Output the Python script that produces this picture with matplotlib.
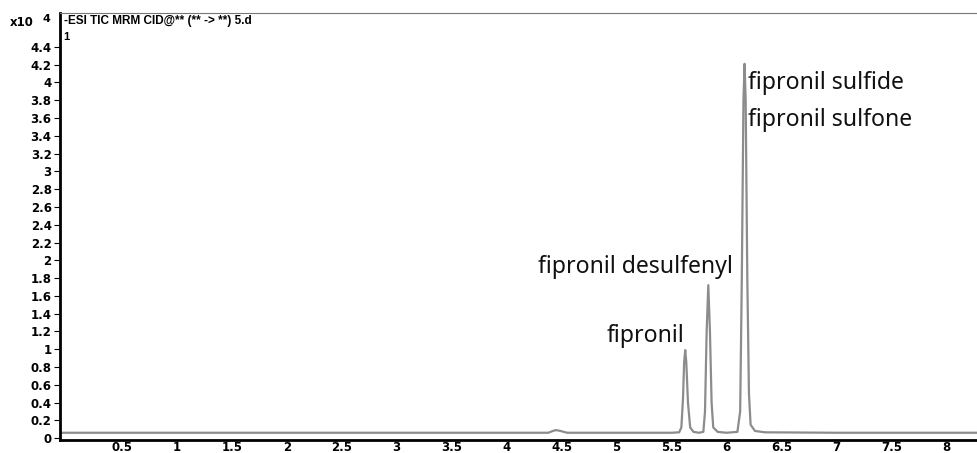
import matplotlib.pyplot as plt

# retention time (min) and abundance (x10^4)
rt = [-0.06, 1.0, 2.0, 3.0, 4.0, 4.38, 4.42, 4.45, 4.49, 4.55, 5.0, 5.5,
      5.57, 5.59, 5.605, 5.615, 5.625, 5.635, 5.65, 5.67, 5.70,
      5.75, 5.79, 5.805, 5.82, 5.835, 5.85, 5.865, 5.88, 5.92,
      6.0, 6.10, 6.125, 6.14, 6.155, 6.165, 6.175, 6.19, 6.205, 6.22, 6.26, 6.35,
      7.0, 8.28]
abundance = [0.06, 0.06, 0.06, 0.06, 0.06, 0.06, 0.08, 0.09, 0.08, 0.06, 0.06, 0.06,
             0.065, 0.12, 0.45, 0.85, 0.99, 0.85, 0.40, 0.12, 0.07,
             0.06, 0.07, 0.30, 1.20, 1.72, 1.20, 0.40, 0.12, 0.07,
             0.06, 0.07, 0.30, 1.80, 3.80, 4.21, 3.80, 1.80, 0.50, 0.15, 0.08, 0.065,
             0.06, 0.06]

labels = ['fipronil', 'fipronil desulfenyl', 'fipronil sulfide', 'fipronil sulfone']
label_x = [4.91, 4.285, 6.196, 6.196]
label_y = [1.08, 1.86, 3.93, 3.51]

fig = plt.figure(figsize=(9.77, 4.53), dpi=100)
ax = fig.add_axes([60 / 977, 0.029, 917 / 977, 0.942])

ax.plot(rt, abundance, color='#8c8c8c', lw=1.6)

for i in range(len(labels)):
    ax.text(label_x[i], label_y[i], labels[i], fontsize=16.6, family='Noto Sans',
            ha='left', va='baseline', color='#111111')

ax.set_xlim(-0.064, 8.28)
ax.set_ylim(-0.02, 4.78)
ax.set_xticks([0.5, 1, 1.5, 2, 2.5, 3, 3.5, 4, 4.5, 5, 5.5, 6, 6.5, 7, 7.5, 8])
ax.set_xticklabels(['0.5', '1', '1.5', '2', '2.5', '3', '3.5', '4', '4.5', '5',
                    '5.5', '6', '6.5', '7', '7.5', '8'])
yt = [0, 0.2, 0.4, 0.6, 0.8, 1, 1.2, 1.4, 1.6, 1.8, 2, 2.2, 2.4, 2.6, 2.8,
      3, 3.2, 3.4, 3.6, 3.8, 4, 4.2, 4.4]
ax.set_yticks(yt)
ax.set_yticklabels(['%g' % v for v in yt])
for lab in ax.get_xticklabels() + ax.get_yticklabels():
    lab.set_fontweight('bold')
    lab.set_family('DejaVu Sans')
    lab.set_fontsize(8.5)
ax.tick_params(axis='y', length=4, width=0.8, pad=2)
ax.tick_params(axis='x', length=0, pad=1)

ax.spines['left'].set_linewidth(2)
ax.spines['bottom'].set_linewidth(2)
ax.spines['top'].set_linewidth(0.8)
ax.spines['top'].set_color('#777777')
ax.spines['right'].set_visible(False)

ax.text(0.004, 0.995, '-ESI TIC MRM CID@** (** -> **) 5.d', transform=ax.transAxes,
        fontsize=8.5, fontweight='bold', family='Liberation Sans', va='top', ha='left')
ax.text(0.004, 0.955, '1', transform=ax.transAxes,
        fontsize=8, fontweight='bold', family='Liberation Sans', va='top', ha='left')
fig.text(0.010, 0.950, 'x10', fontsize=8.5, fontweight='bold', family='DejaVu Sans',
         va='center', ha='left')
fig.text(0.043, 0.958, '4', fontsize=8, fontweight='bold', family='DejaVu Sans',
         va='center', ha='left')

fig.savefig('out.png', dpi=100)
